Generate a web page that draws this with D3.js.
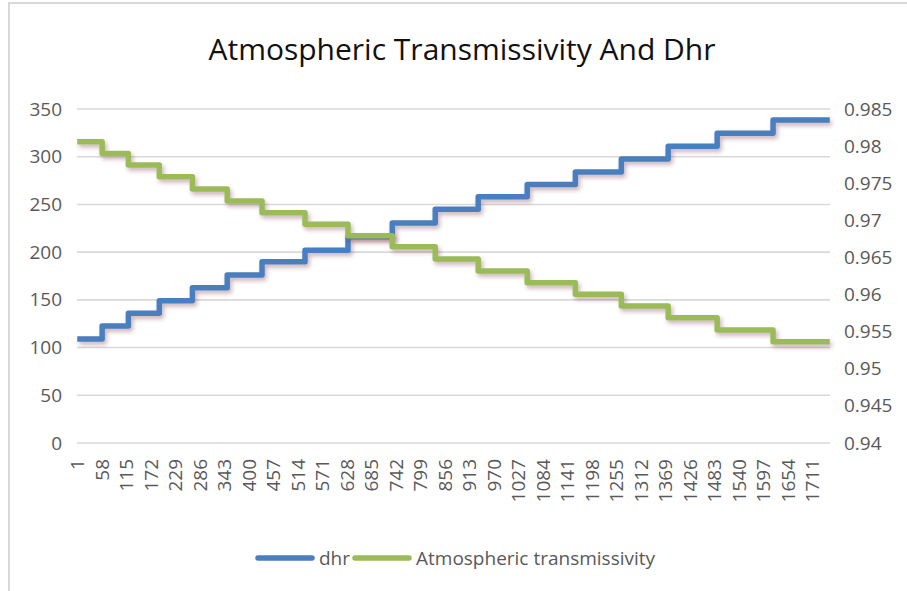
<!DOCTYPE html>
<html>
<head>
<meta charset="utf-8">
<script src="https://cdn.jsdelivr.net/npm/d3@7"></script>
<style>
  body { margin: 0; background: #fff; }
  #chart { width: 907px; height: 591px; }
  text { font-family: "Open Sans", Lato, sans-serif; }
</style>
</head>
<body>
<div id="chart"></div>
<script>
// category count on the x axis (1 .. nCats)
var nCats = 1752;

// first category of each step (the value holds until the next one)
var stepStart = [1, 59, 120, 192, 269, 350, 431, 531, 631, 734, 834, 934, 1048, 1160, 1267, 1376, 1490, 1620];

var dhr = [109, 122.6, 136, 149, 162.7, 176, 190, 202, 216, 230.5, 245, 258, 271, 284, 297.6, 311, 324.5, 338.5];

var transmissivity = [0.9806, 0.9790, 0.97746, 0.97588, 0.97422, 0.97261, 0.97103, 0.96947, 0.96793,
  0.96645, 0.96479, 0.96317, 0.9616, 0.96003, 0.95846, 0.95688, 0.95523, 0.95365];

var xTicks = [1, 58, 115, 172, 229, 286, 343, 400, 457, 514, 571, 628, 685, 742, 799, 856, 913, 970,
  1027, 1084, 1141, 1198, 1255, 1312, 1369, 1426, 1483, 1540, 1597, 1654, 1711];

var yLeftTicks = [0, 50, 100, 150, 200, 250, 300, 350];
var yRightTicks = [0.94, 0.945, 0.95, 0.955, 0.96, 0.965, 0.97, 0.975, 0.98, 0.985];

var seriesNames = ["dhr", "Atmospheric transmissivity"];
var colors = ["#4a7ebf", "#9bbb59"];

(function draw() {
  var pxX = 907, pxY = 591;
  var container = d3.select("#chart");
  container.selectAll("*").remove();
  var svg = container.append("svg")
    .attr("width", pxX)
    .attr("height", pxY);

  // outer border of the chart area (only left / top visible)
  svg.append("rect")
    .attr("x", 9).attr("y", 3)
    .attr("width", 1000).attr("height", 700)
    .attr("fill", "#fff")
    .attr("stroke", "#d9d9d9")
    .attr("stroke-width", 2);

  var defs = svg.append("defs");
  var flt = defs.append("filter")
    .attr("id", "shadow")
    .attr("x", "-5%").attr("y", "-20%")
    .attr("width", "110%").attr("height", "140%");
  flt.append("feDropShadow")
    .attr("dx", 2).attr("dy", 3)
    .attr("stdDeviation", 2)
    .attr("flood-color", "#6e2d3c")
    .attr("flood-opacity", 0.35);

  // --- Scales ---
  var left = 77, right = 830, top = 109, bottom = 443;

  var scX = d3.scaleLinear().domain([0.5, nCats + 0.5]).range([left, right]);
  var scY1 = d3.scaleLinear().domain([0, 350]).range([bottom, top]);
  var scY2 = d3.scaleLinear().domain([0.94, 0.985]).range([bottom, top]);

  // --- Title ---
  svg.append("text")
    .attr("x", 462).attr("y", 60)
    .attr("text-anchor", "middle")
    .attr("font-size", 30)
    .attr("fill", "#111")
    .text("Atmospheric Transmissivity And Dhr");

  // --- Grid lines ---
  svg.append("g")
    .selectAll("line")
    .data(yLeftTicks)
    .enter()
    .append("line")
    .attr("x1", left).attr("x2", right)
    .attr("y1", d => scY1(d)).attr("y2", d => scY1(d))
    .attr("stroke", "#d9d9d9")
    .attr("stroke-width", 1.6);

  // --- Axes ---
  var axL = svg.append("g")
    .attr("transform", `translate(${left - 15}, 0)`)
    .call(d3.axisLeft(scY1).tickValues(yLeftTicks).tickSize(0).tickPadding(0));
  var axR = svg.append("g")
    .attr("transform", `translate(${right + 14}, 0)`)
    .call(d3.axisRight(scY2).tickValues(yRightTicks).tickSize(0).tickPadding(0).tickFormat(d3.format("")));
  var axX = svg.append("g")
    .attr("transform", `translate(0, ${bottom})`)
    .call(d3.axisBottom(scX).tickValues(xTicks).tickSize(0).tickPadding(0).tickFormat(d3.format("d")));

  [axL, axR, axX].forEach(function(ax) {
    ax.select(".domain").remove();
    ax.selectAll("text")
      .attr("fill", "#595959")
      .attr("font-size", 19)
      .attr("font-family", "'Open Sans', Lato, sans-serif");
  });

  axX.selectAll("text")
    .attr("text-anchor", "end")
    .attr("transform", "rotate(-90)")
    .attr("x", -16)
    .attr("y", 0)
    .attr("dy", "0.35em");

  // --- Series ---
  var makePoints = function(values) {
    var pts = stepStart.map((s, i) => [s, values[i]]);
    pts.push([nCats, values[values.length - 1]]);
    return pts;
  };

  var drawSeries = function(values, scY, color) {
    var lnMkr = d3.line()
      .curve(d3.curveStepAfter)
      .x(d => scX(d[0]))
      .y(d => scY(d[1]));
    svg.append("path")
      .attr("fill", "none")
      .attr("stroke", color)
      .attr("stroke-width", 5.5)
      .attr("stroke-linejoin", "round")
      .attr("filter", "url(#shadow)")
      .attr("d", lnMkr(makePoints(values)));
  };

  drawSeries(dhr, scY1, colors[0]);
  drawSeries(transmissivity, scY2, colors[1]);

  // --- Legend ---
  var legend = svg.append("g").attr("transform", "translate(258, 558)");
  var offsets = [0, 97];
  seriesNames.forEach(function(name, i) {
    var g = legend.append("g").attr("transform", `translate(${offsets[i]}, 0)`);
    g.append("line")
      .attr("x1", 0).attr("x2", 54)
      .attr("stroke", colors[i])
      .attr("stroke-width", 5.5)
      .attr("stroke-linecap", "round");
    g.append("text")
      .attr("x", 61).attr("y", 0)
      .attr("dy", "0.35em")
      .attr("font-size", 19)
      .attr("fill", "#595959")
      .text(name);
  });
})();
</script>
</body>
</html>
